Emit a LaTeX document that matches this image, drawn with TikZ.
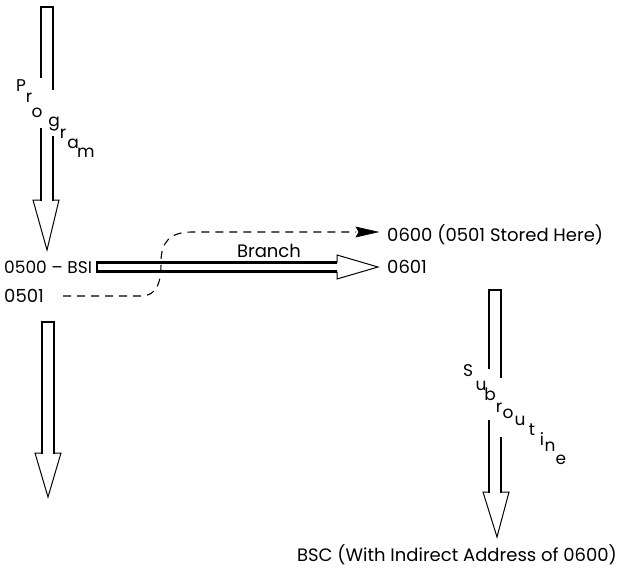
\documentclass[tikz,border=0pt]{standalone}
\usepackage{fontspec}
\setmainfont{Poppins}
\usetikzlibrary{arrows.meta}
\begin{document}
\begin{tikzpicture}[x=1pt,y=-1pt,
  shaft/.style={line width=2.5pt, line cap=butt},
  headln/.style={line width=1pt, line join=miter},
  lbl/.style={inner sep=0pt, font=\fontsize{18}{20}\selectfont},
  let/.style={inner sep=0pt, font=\fontsize{17}{19}\selectfont},
  dashline/.style={line width=1.1pt, dash pattern=on 8pt off 6pt},
  tipfill/.style={fill=black, draw=black, line width=0.6pt, line join=miter}]
\useasboundingbox (0,0) rectangle (624,568);

% texts
\node[lbl, anchor=west, font=\fontsize{17}{19}\selectfont] (b500) at (4,267) {0500 – BSI};
\node[lbl, anchor=west] (b501) at (4,296) {0501};
\node[lbl, anchor=west] (s600) at (387,235) {0600 (0501 Stored Here)};
\node[lbl, anchor=west] (s601) at (387,267) {0601};
\node[lbl] (bsc) at (457,555) {BSC (With Indirect Address of 0600)};
\node[lbl] (branch) at (269,251) {Branch};

% Program letters
\node[let] (p1) at (21,86) {P};
\node[let] (p2) at (29,98) {r};
\node[let] (p3) at (37,113) {o};
\node[let] (p4) at (54,124) {g};
\node[let] (p5) at (63,134) {r};
\node[let] (p6) at (73,144) {a};
\node[let] (p7) at (86,153) {m};

% Subroutine letters
\node[let] (s1) at (468,371) {S};
\node[let] (s2) at (481,386) {u};
\node[let] (s3) at (490,394) {b};
\node[let] (s4) at (499,408) {r};
\node[let] (s5) at (508,414) {o};
\node[let] (s6) at (520,421) {u};
\node[let] (s7) at (532,430) {t};
\node[let] (s8) at (542,439) {i};
\node[let] (s9) at (550,447) {n};
\node[let] (s10) at (561,460) {e};

% Program block arrow
\draw[shaft] (41,7) -- (53,7);
\draw[shaft] (41,5.75) -- (41,78);
\draw[shaft] (53,5.75) -- (53,90);
\draw[shaft] (41,128) -- (41,200.5);
\draw[shaft] (53,136) -- (53,200.5);
\draw[headln] (41,200) -- (33,200) -- (47,250) -- (59,200) -- (53,200);

% lower left block arrow
\draw[shaft] (42,322) -- (54,322);
\draw[shaft] (42,320.75) -- (42,453.5);
\draw[shaft] (54,320.75) -- (54,453.5);
\draw[headln] (42,453) -- (35,453) -- (48,497) -- (61,453) -- (54,453);

% Branch block arrow
\draw[shaft] (337,262.5) -- (97,262.5) -- (97,271.5) -- (337,271.5);
\draw[headln] (337,262.5) -- (337,255) -- (378,267) -- (337,279) -- (337,271.5);

% dashed connector 0501 -> 0600
\coordinate (dstart) at (63,296);
\coordinate (dend) at (356,232);
\draw[dashline] (dstart) -- (140,296)
  .. controls (158,296) and (161,282) .. (161,262)
  .. controls (161,242) and (170,232) .. (192,232) -- (dend);
\coordinate (dtip) at (378,232);
\draw[tipfill] (dend) ++(0,-5) -- (dtip) -- ++(-22,5) -- ++(3,-5) -- cycle;

% Subroutine block arrow
\draw[shaft] (489,290) -- (501,290);
\draw[shaft] (489,288.75) -- (489,369);
\draw[shaft] (501,288.75) -- (501,378);
\draw[shaft] (489,420) -- (489,492.5);
\draw[shaft] (501,437) -- (501,492.5);
\draw[headln] (489,492) -- (483,492) -- (497,537) -- (509,492) -- (501,492);
\end{tikzpicture}
\end{document}
